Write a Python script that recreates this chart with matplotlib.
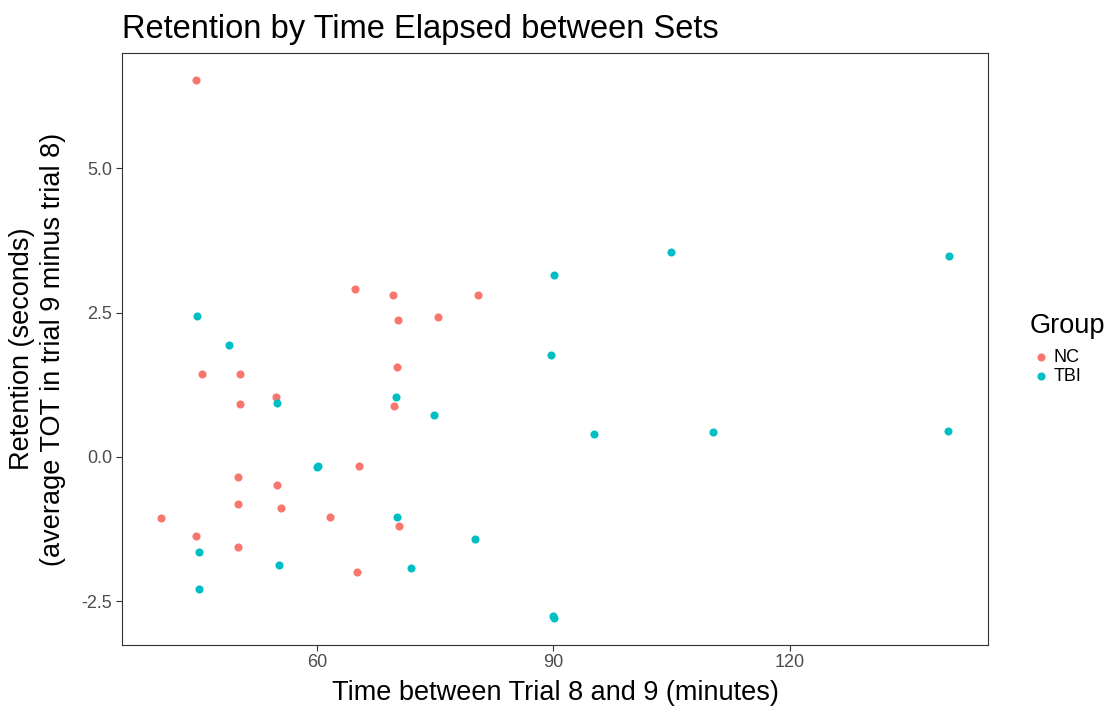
import matplotlib.pyplot as plt

plt.rcParams['font.family'] = ['Liberation Sans', 'DejaVu Sans']

# values
nc_time = [44.7, 64.8, 69.7, 70.3, 75.3, 80.4, 45.4, 50.3, 54.8, 50.3, 70.1, 69.8,
           65.4, 50.0, 55.0, 50.0, 55.4, 40.2, 61.7, 70.4, 44.7, 50.0, 65.1]
nc_ret = [6.53, 2.91, 2.81, 2.37, 2.43, 2.81, 1.43, 1.43, 1.04, 0.92, 1.56, 0.88,
          -0.16, -0.34, -0.49, -0.81, -0.88, -1.06, -1.04, -1.20, -1.38, -1.56, -2.00]

tbi_time = [44.8, 48.8, 54.9, 70.0, 60.0, 60.2, 70.2, 45.0, 55.2, 72.0, 45.1,
            74.9, 80.0, 90.1, 89.7, 95.2, 90.0, 90.1, 104.9, 140.2, 110.3, 140.0]
tbi_ret = [2.45, 1.94, 0.93, 1.03, -0.18, -0.15, -1.04, -1.65, -1.87, -1.92, -2.29,
           0.73, -1.42, 3.16, 1.76, 0.39, -2.75, -2.79, 3.56, 3.48, 0.44, 0.45]

groups = ["NC", "TBI"]
colors = ["#F8766D", "#00BFC4"]

fig = plt.figure(figsize=(11.11, 7.12), dpi=100)
ax = fig.add_axes([0.1095, 0.0945, 0.78, 0.8306])

for g, c, xs, ys in zip(groups, colors, [nc_time, tbi_time], [nc_ret, tbi_ret]):
    ax.scatter(xs, ys, s=34, color=c, label=g, linewidths=0, zorder=3)

ax.set_xlim(35.24, 145.15)
ax.set_ylim(-3.256, 6.996)
ax.set_xticks([60, 90, 120])
ax.set_yticks([-2.5, 0.0, 2.5, 5.0])
ax.set_yticklabels(["-2.5", "0.0", "2.5", "5.0"])

for s in ax.spines.values():
    s.set_color("#333333")
    s.set_linewidth(0.8)
ax.tick_params(colors="#333333", labelcolor="#4D4D4D", labelsize=13, length=4, width=0.8, pad=3)

ax.set_xlabel("Time between Trial 8 and 9 (minutes)", fontsize=19.5, labelpad=6)
ax.set_ylabel("Retention (seconds)\n(average TOT in trial 9 minus trial 8)", fontsize=19.5,
              labelpad=11, linespacing=1.25)
ax.set_title("Retention by Time Elapsed between Sets", fontsize=23.5, loc="left", pad=11)

leg = ax.legend(title="Group", loc="center left", bbox_to_anchor=(1.04, 0.5), frameon=False,
                fontsize=13, title_fontsize=19.5, handletextpad=0.1, markerscale=1.0,
                borderaxespad=0, labelspacing=0.15, handlelength=1.2)
leg._legend_box.align = "left"
leg._legend_box.sep = 7

fig.savefig("out.png", dpi=100)
